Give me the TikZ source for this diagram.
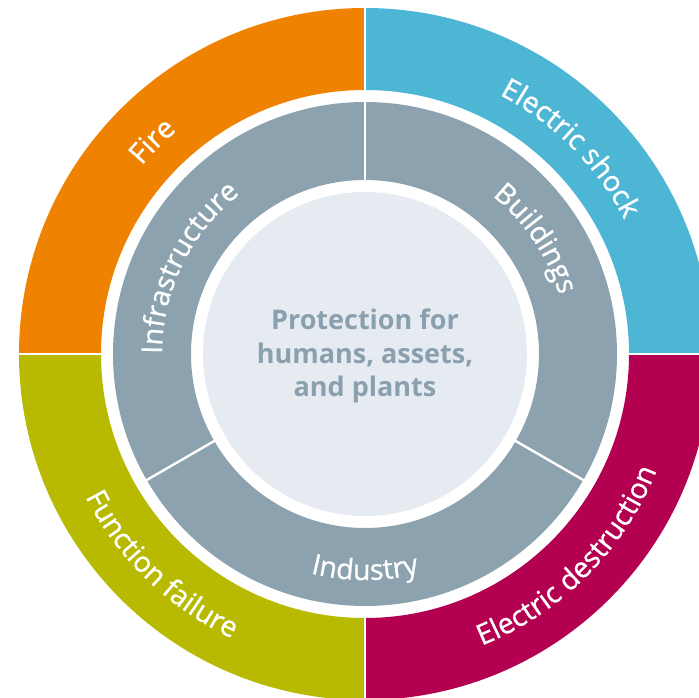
\documentclass[tikz,border=0pt]{standalone}
\usepackage{fontspec}
\setmainfont{Open Sans}
\newfontfamily\ringfamily[FakeBold=0.8]{Open Sans}
\usetikzlibrary{decorations.text}

\definecolor{fireorange}{RGB}{239,130,0}
\definecolor{shockblue}{RGB}{76,182,212}
\definecolor{failgreen}{RGB}{183,186,0}
\definecolor{destrmagenta}{RGB}{180,0,80}
\definecolor{sectorgrey}{RGB}{140,162,175}
\definecolor{corelight}{RGB}{229,235,240}
\definecolor{coretext}{RGB}{138,160,175}

\newcommand{\labelfont}{\ringfamily\fontsize{28.5}{28.5}\selectfont\color{white}}

\tikzset{
  ringlabel/.style={decorate, decoration={text along path, text align=center, text={|\labelfont|#1}}},
  separator/.style={white, line width=2.4pt}
}

\begin{document}
\begin{tikzpicture}
  \useasboundingbox (-365pt,-343pt) rectangle (334pt,354pt);
  \clip (-365pt,-343pt) rectangle (334pt,354pt);

  % outer ring
  \fill[fireorange] (90:346pt) arc[start angle=90, end angle=180, radius=346pt] -- (180:264pt) arc[start angle=180, end angle=90, radius=264pt] -- cycle;
  \fill[shockblue] (0:346pt) arc[start angle=0, end angle=90, radius=346pt] -- (90:264pt) arc[start angle=90, end angle=0, radius=264pt] -- cycle;
  \fill[failgreen] (180:346pt) arc[start angle=180, end angle=270, radius=346pt] -- (270:264pt) arc[start angle=270, end angle=180, radius=264pt] -- cycle;
  \fill[destrmagenta] (270:346pt) arc[start angle=270, end angle=360, radius=346pt] -- (0:264pt) arc[start angle=360, end angle=270, radius=264pt] -- cycle;
  \foreach \a in {0,90,180,270}
    \draw[separator] (\a:260pt) -- (\a:350pt);

  % middle ring
  \fill[sectorgrey, even odd rule] (0,0) circle[radius=252pt] (0,0) circle[radius=174pt];
  \foreach \a in {90,-30,-150}
    \draw[separator] (\a:170pt) -- (\a:256pt);

  % core
  \fill[corelight] (0,0) circle[radius=162pt];
  \node (core) [align=center, text=coretext, font=\fontsize{27}{33.5}\selectfont\bfseries] at (0pt,-2pt) {Protection for\\humans, assets,\\and plants};

  % labels
  \path[ringlabel=Fire] (175:292pt) arc[start angle=175, end angle=95, radius=292pt];
  \path[ringlabel=Electric shock] (85:292pt) arc[start angle=85, end angle=5, radius=292pt];
  \path[ringlabel=Function failure] (-180:314pt) arc[start angle=-180, end angle=-88, radius=314pt];
  \path[ringlabel=Electric destruction] (-90:314pt) arc[start angle=-90, end angle=0, radius=314pt];
  \path[ringlabel=Infrastructure] (200:203pt) arc[start angle=200, end angle=108, radius=203pt];
  \path[ringlabel=Buildings] (80:203pt) arc[start angle=80, end angle=-12, radius=203pt];
  \path[ringlabel=Industry] (-130:226pt) arc[start angle=-130, end angle=-50, radius=226pt];
\end{tikzpicture}
\end{document}
